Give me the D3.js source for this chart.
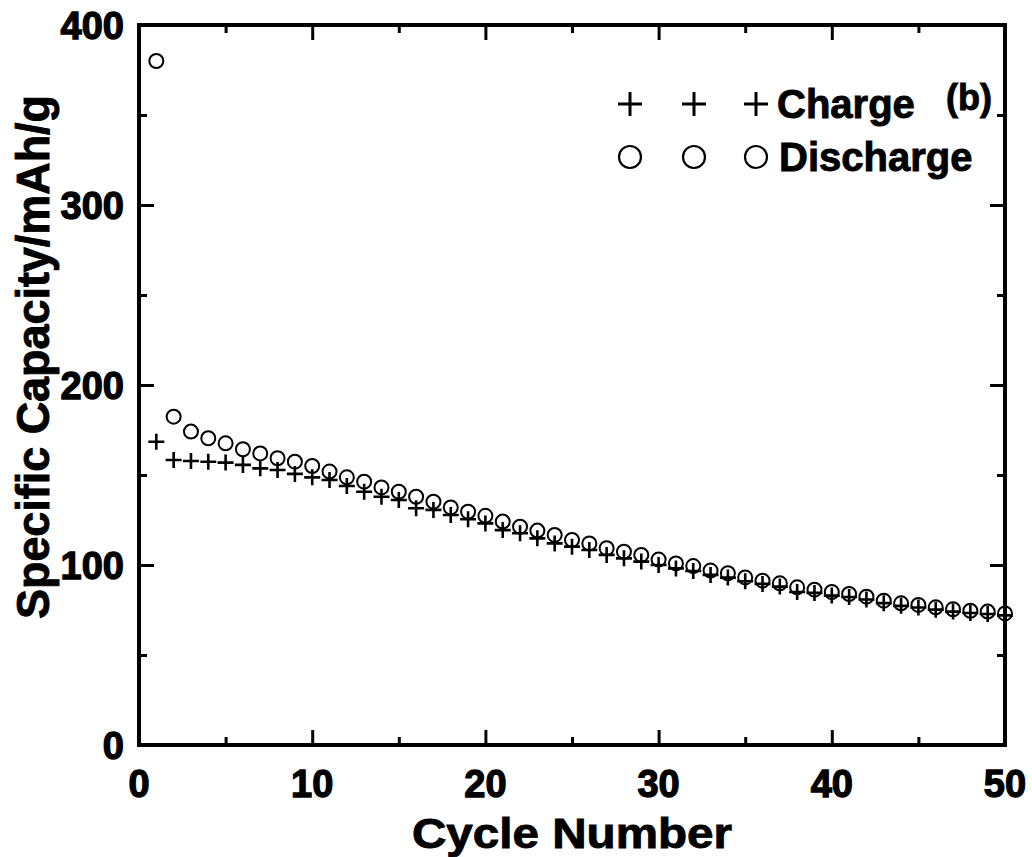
<!DOCTYPE html>
<html>
<head>
<meta charset="utf-8">
<script src="https://cdn.jsdelivr.net/npm/d3@7"></script>
<style>
  html, body { margin: 0; padding: 0; background: #fff; }
  svg { display: block; }
  text { font-family: "Liberation Sans", Arial, sans-serif; font-weight: bold; fill: #000;
         stroke: #000; stroke-width: 0.9px; }
  .tick-label { stroke-width: 1.3px; }
</style>
</head>
<body>
<svg id="chart" width="1032" height="857"></svg>
<script>
// Cycle numbers 1..50
const cycles = [1,2,3,4,5,6,7,8,9,10,11,12,13,14,15,16,17,18,19,20,21,22,23,24,25,
  26,27,28,29,30,31,32,33,34,35,36,37,38,39,40,41,42,43,44,45,46,47,48,49,50];

// Specific capacity (mAh/g)
const charge = [168.5,158.3,157.8,157.4,156.9,155.6,153.7,152.8,150.6,148.7,
  147.2,143.9,140.7,137.9,136.1,131.5,130.6,127.8,125.4,123.1,
  119.4,117.6,114.8,112.0,110.2,108.3,105.6,103.7,101.9,100.0,
  98.1,96.7,94.5,93.0,91.0,89.5,88.0,85.0,84.5,83.0,
  82.2,80.8,78.8,77.3,76.4,75.2,74.1,73.3,72.8,72.0];

const discharge = [380.0,182.4,174.1,170.4,167.6,164.3,162.0,159.3,157.4,155.0,
  151.9,148.7,146.3,143.1,140.7,137.9,135.2,132.0,129.6,127.3,
  124.1,121.3,119.1,116.7,113.9,112.0,109.3,107.4,105.6,103.0,
  100.9,99.4,96.9,95.4,93.1,91.3,89.8,87.6,86.3,85.0,
  83.9,82.4,80.2,78.7,77.8,76.5,75.4,74.6,74.1,73.1];

const xTicks = [0,10,20,30,40,50];
const xMinor = [5,15,25,35,45];
const yTicks = [0,100,200,300,400];
const yMinor = [50,150,250,350];

const xTitle = "Cycle Number";
const yTitle = "Specific Capacity/mAh/g";
const panelTag = "(b)";
const legendLabels = ["Charge", "Discharge"];

const svg = d3.select("#chart");
const plotL = 139, plotR = 1005, plotT = 25, plotB = 745;

const x = d3.scaleLinear().domain([0, 50]).range([plotL, plotR]);
const y = d3.scaleLinear().domain([0, 400]).range([plotB, plotT]);

const majorLen = 15, minorLen = 8;

// Tick marks on all four sides, pointing inward
function tickAxis(axisFn, scale, pos, len, values) {
  const g = svg.append("g").attr("transform", pos)
    .call(axisFn(scale).tickValues(values).tickSize(len).tickFormat(""));
  g.select(".domain").remove();
  g.selectAll(".tick line").attr("stroke", "#000").attr("stroke-width", 3);
  return g;
}
tickAxis(d3.axisTop, x, `translate(0,${plotB})`, majorLen, xTicks);
tickAxis(d3.axisTop, x, `translate(0,${plotB})`, minorLen, xMinor);
tickAxis(d3.axisBottom, x, `translate(0,${plotT})`, majorLen, xTicks);
tickAxis(d3.axisBottom, x, `translate(0,${plotT})`, minorLen, xMinor);
tickAxis(d3.axisRight, y, `translate(${plotL},0)`, majorLen, yTicks);
tickAxis(d3.axisRight, y, `translate(${plotL},0)`, minorLen, yMinor);
tickAxis(d3.axisLeft, y, `translate(${plotR},0)`, majorLen, yTicks);
tickAxis(d3.axisLeft, y, `translate(${plotR},0)`, minorLen, yMinor);

// Frame
svg.append("rect")
  .attr("x", plotL).attr("y", plotT)
  .attr("width", plotR - plotL).attr("height", plotB - plotT)
  .attr("fill", "none").attr("stroke", "#000").attr("stroke-width", 4);

// Tick labels
svg.append("g").selectAll("text").data(xTicks).join("text")
  .attr("class", "tick-label")
  .attr("x", d => x(d)).attr("y", 797)
  .attr("text-anchor", "middle")
  .attr("font-size", 38)
  .text(d => d);

svg.append("g").selectAll("text").data(yTicks).join("text")
  .attr("class", "tick-label")
  .attr("x", 124).attr("y", d => y(d) + 14)
  .attr("text-anchor", "end")
  .attr("font-size", 38)
  .text(d => d);

// Axis titles
svg.append("text")
  .attr("x", 572).attr("y", 848)
  .attr("text-anchor", "middle")
  .attr("font-size", 43)
  .attr("textLength", 320)
  .attr("lengthAdjust", "spacingAndGlyphs")
  .text(xTitle);

svg.append("text")
  .attr("transform", "translate(49,357) rotate(-90)")
  .attr("text-anchor", "middle")
  .attr("font-size", 46)
  .attr("textLength", 524)
  .attr("lengthAdjust", "spacingAndGlyphs")
  .text(yTitle);

// Data markers
const plusPath = (cx, cy, h) => `M${cx - h},${cy}H${cx + h}M${cx},${cy - h}V${cy + h}`;

svg.append("g").selectAll("circle").data(cycles).join("circle")
  .attr("cx", (d) => x(d))
  .attr("cy", (d, i) => y(discharge[i]))
  .attr("r", 7)
  .attr("fill", "none")
  .attr("stroke", "#000")
  .attr("stroke-width", 2);

svg.append("g").selectAll("path").data(cycles).join("path")
  .attr("d", (d, i) => plusPath(x(d), y(charge[i]), 8))
  .attr("fill", "none")
  .attr("stroke", "#000")
  .attr("stroke-width", 2.6);

// Panel tag
svg.append("text")
  .attr("x", 992).attr("y", 110)
  .attr("text-anchor", "end")
  .attr("font-size", 36)
  .text(panelTag);

// Legend
const legendX = [630, 694, 756];
const lg = svg.append("g");
lg.selectAll("path").data(legendX).join("path")
  .attr("d", d => plusPath(d, 104, 12))
  .attr("stroke", "#000").attr("stroke-width", 3).attr("fill", "none");
lg.selectAll("circle").data(legendX).join("circle")
  .attr("cx", d => d).attr("cy", 157).attr("r", 11)
  .attr("stroke", "#000").attr("stroke-width", 2.2).attr("fill", "none");
lg.append("text").attr("x", 777).attr("y", 118).attr("font-size", 40).text(legendLabels[0]);
lg.append("text").attr("x", 779).attr("y", 171).attr("font-size", 40).text(legendLabels[1]);
</script>
</body>
</html>
